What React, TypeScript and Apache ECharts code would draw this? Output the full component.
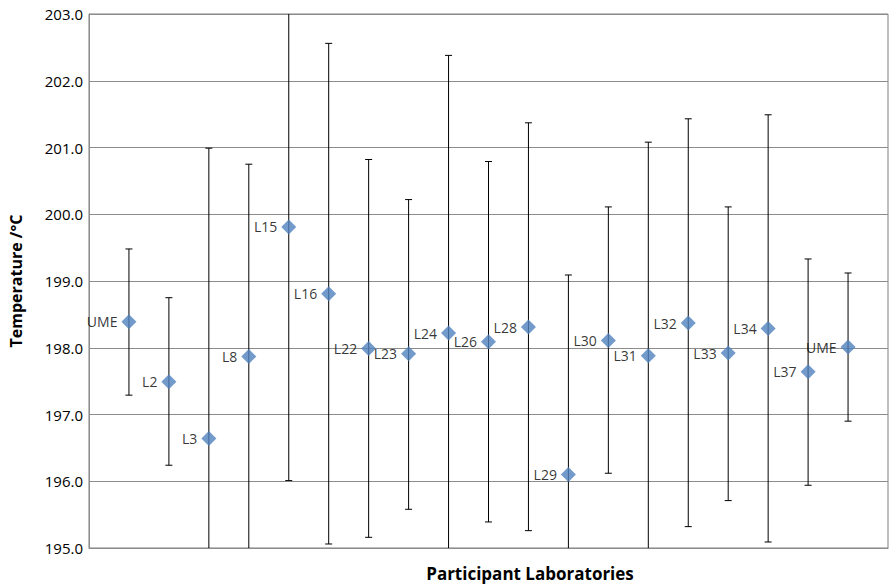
import React, { useEffect, useRef } from "react";
import * as echarts from "echarts";

const labels = ["UME", "L2", "L3", "L8", "L15", "L16", "L22", "L23", "L24", "L26", "L28", "L29", "L30", "L31", "L32", "L33", "L34", "L37", "UME"];
const values = [198.39, 197.49, 196.64, 197.87, 199.81, 198.81, 197.99, 197.91, 198.22, 198.09, 198.31, 196.1, 198.11, 197.88, 198.37, 197.92, 198.29, 197.64, 198.01];
const upper = [199.48, 198.75, 200.99, 200.75, 203.6, 202.56, 200.82, 200.22, 202.38, 200.79, 201.37, 199.09, 200.11, 201.08, 201.43, 200.11, 201.49, 199.33, 199.12];
const lower = [197.29, 196.24, 194.3, 194.9, 196.01, 195.06, 195.16, 195.58, 194.0, 195.39, 195.26, 192.9, 196.12, 194.7, 195.32, 195.71, 195.09, 195.94, 196.9];
const xTitle = "Participant Laboratories";
const yTitle = "Temperature /°C";

export default function App() {
  const ref = useRef<HTMLDivElement>(null);
  useEffect(() => {
    if (!ref.current) return;
    const chart = echarts.init(ref.current, null, { renderer: "svg" });
    const font = "Open Sans";
    const pts = values.map((v, i) => [i + 1, v, labels[i]]);
    const bars = values.map((v, i) => [i + 1, lower[i], upper[i]]);
    chart.setOption({
      animation: false,
      grid: {
        left: 89,
        right: 1,
        top: 14,
        bottom: 37,
        show: true,
        borderColor: "#7f7f7f",
        borderWidth: 1,
        containLabel: false,
        outerBoundsMode: "none",
      },
      graphic: [
        {
          type: "text",
          x: 530,
          y: 573,
          style: {
            text: xTitle,
            fontFamily: font,
            fontWeight: "bold",
            fontSize: 17,
            fill: "#000",
            align: "center",
            verticalAlign: "middle",
          },
        },
      ],
      xAxis: {
        type: "value",
        min: 0,
        max: 20,
        axisLine: { show: true, lineStyle: { color: "#8c8c8c" } },
        axisTick: { show: false },
        axisLabel: { show: false },
        splitLine: { show: false },
      },
      yAxis: {
        type: "value",
        min: 195,
        max: 203,
        interval: 1,
        axisLine: { show: true, lineStyle: { color: "#8c8c8c" } },
        axisTick: { show: false },
        axisLabel: {
          formatter: (v: number) => v.toFixed(1),
          fontFamily: font,
          fontSize: 15,
          color: "#000",
          margin: 6,
        },
        splitLine: { show: true, lineStyle: { color: "#8c8c8c", width: 1 } },
        name: yTitle,
        nameLocation: "middle",
        nameGap: 65,
        nameRotate: 90,
        nameTextStyle: { fontFamily: font, fontWeight: "bold", fontSize: 16, color: "#000" },
      },
      series: [
        {
          type: "custom",
          clip: true,
          data: bars,
          renderItem: (params: any, api: any) => {
            const x = api.coord([api.value(0), api.value(1)])[0];
            const yl = api.coord([api.value(0), api.value(1)])[1];
            const yh = api.coord([api.value(0), api.value(2)])[1];
            const cap = 3.5;
            const style = { stroke: "#000", lineWidth: 1 };
            return {
              type: "group",
              children: [
                { type: "line", shape: { x1: x, y1: yl, x2: x, y2: yh }, style },
                { type: "line", shape: { x1: x - cap, y1: yl, x2: x + cap, y2: yl }, style },
                { type: "line", shape: { x1: x - cap, y1: yh, x2: x + cap, y2: yh }, style },
              ],
            };
          },
          z: 2,
        },
        {
          type: "scatter",
          data: pts,
          symbol: "diamond",
          symbolSize: 15,
          itemStyle: { color: "#4F81BD" },
          label: {
            show: true,
            position: "left",
            distance: 4,
            formatter: (p: any) => p.data[2],
            fontFamily: font,
            fontSize: 14,
            color: "#000",
          },
          z: 3,
        },
      ],
    });
    return () => chart.dispose();
  }, []);
  return <div ref={ref} style={{ position: "fixed", left: 0, top: 0, width: 889, height: 585, background: "#fff" }} />;
}
